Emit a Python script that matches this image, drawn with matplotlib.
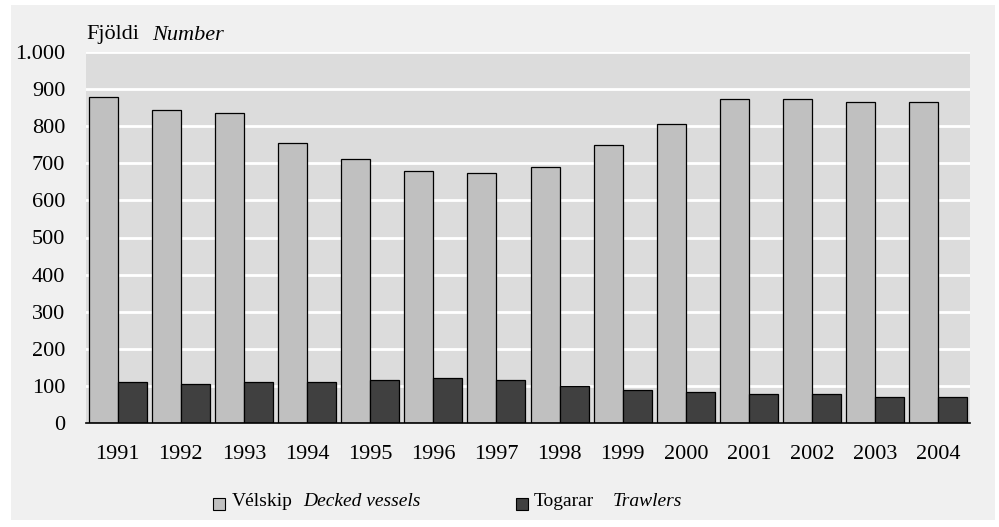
import matplotlib
matplotlib.use("Agg")
import matplotlib.pyplot as plt
from matplotlib.patches import Rectangle
from matplotlib.ticker import FuncFormatter
import numpy as np

years = ["1991", "1992", "1993", "1994", "1995", "1996", "1997",
         "1998", "1999", "2000", "2001", "2002", "2003", "2004"]
decked = [879, 845, 835, 755, 712, 678, 673, 690, 750, 806, 872, 872, 866, 866]
trawlers = [110, 104, 110, 110, 116, 121, 116, 100, 90, 83, 78, 77, 71, 71]

plt.rcParams['font.family'] = ['Liberation Serif', 'DejaVu Serif']
FS = 16
LFS = 14

W, H = 999, 527
fig = plt.figure(figsize=(W / 100, H / 100), dpi=100)
fig.patch.set_facecolor("white")

# outer light panel
fig.patches.append(Rectangle((11 / W, 1 - 520 / H), (995 - 11) / W, (520 - 5) / H,
                             transform=fig.transFigure, facecolor="#f0f0f0",
                             edgecolor="none", zorder=-5))

ax = fig.add_axes([86 / W, 1 - 423 / H, (970 - 86) / W, (423 - 52) / H])
ax.set_zorder(2)
ax.set_facecolor("#dcdcdc")

x = np.arange(len(years))
bw = 0.46
ax.bar(x - bw / 2, decked, bw, color="#c0c0c0", edgecolor="#000000", linewidth=0.9, zorder=3)
ax.bar(x + bw / 2, trawlers, bw, color="#404040", edgecolor="#000000", linewidth=0.9, zorder=3)

ax.set_xlim(-0.5, len(years) - 0.5)
ax.set_ylim(0, 1000)
ax.set_yticks(np.arange(0, 1001, 100))
ax.yaxis.set_major_formatter(FuncFormatter(lambda v, p: f"{int(v):,}".replace(",", ".")))
ax.grid(axis="y", color="white", linewidth=2, zorder=1)
ax.set_axisbelow(True)
for s in ["top", "right", "left"]:
    ax.spines[s].set_visible(False)
ax.spines["bottom"].set_color("black")
ax.spines["bottom"].set_linewidth(1.2)
ax.spines["bottom"].set_zorder(5)

ax.set_xticks(x)
ax.set_xticklabels(years)
ax.tick_params(axis="x", length=0, pad=16, labelsize=FS)
ax.tick_params(axis="y", length=0, pad=15, labelsize=FS)

fig.text(86 / W, 1 - 35 / H, "Fjöldi", fontsize=FS, ha="left", va="center")
fig.text(152 / W, 1 - 35 / H, "Number", fontsize=FS, style="italic", ha="left", va="center")

# legend
ly = 501
fig.patches.append(Rectangle((213 / W, 1 - 510 / H), 12 / W, 12 / H, transform=fig.transFigure,
                             facecolor="#c0c0c0", edgecolor="black", linewidth=0.8))
fig.text(232 / W, 1 - ly / H, "Vélskip", fontsize=LFS, ha="left", va="center")
fig.text(303 / W, 1 - ly / H, "Decked vessels", fontsize=LFS, style="italic", ha="left", va="center")
fig.patches.append(Rectangle((516 / W, 1 - 510 / H), 12 / W, 12 / H, transform=fig.transFigure,
                             facecolor="#404040", edgecolor="black", linewidth=0.8))
fig.text(534 / W, 1 - ly / H, "Togarar", fontsize=LFS, ha="left", va="center")
fig.text(613 / W, 1 - ly / H, "Trawlers", fontsize=LFS, style="italic", ha="left", va="center")

fig.savefig("out.png", dpi=100)
